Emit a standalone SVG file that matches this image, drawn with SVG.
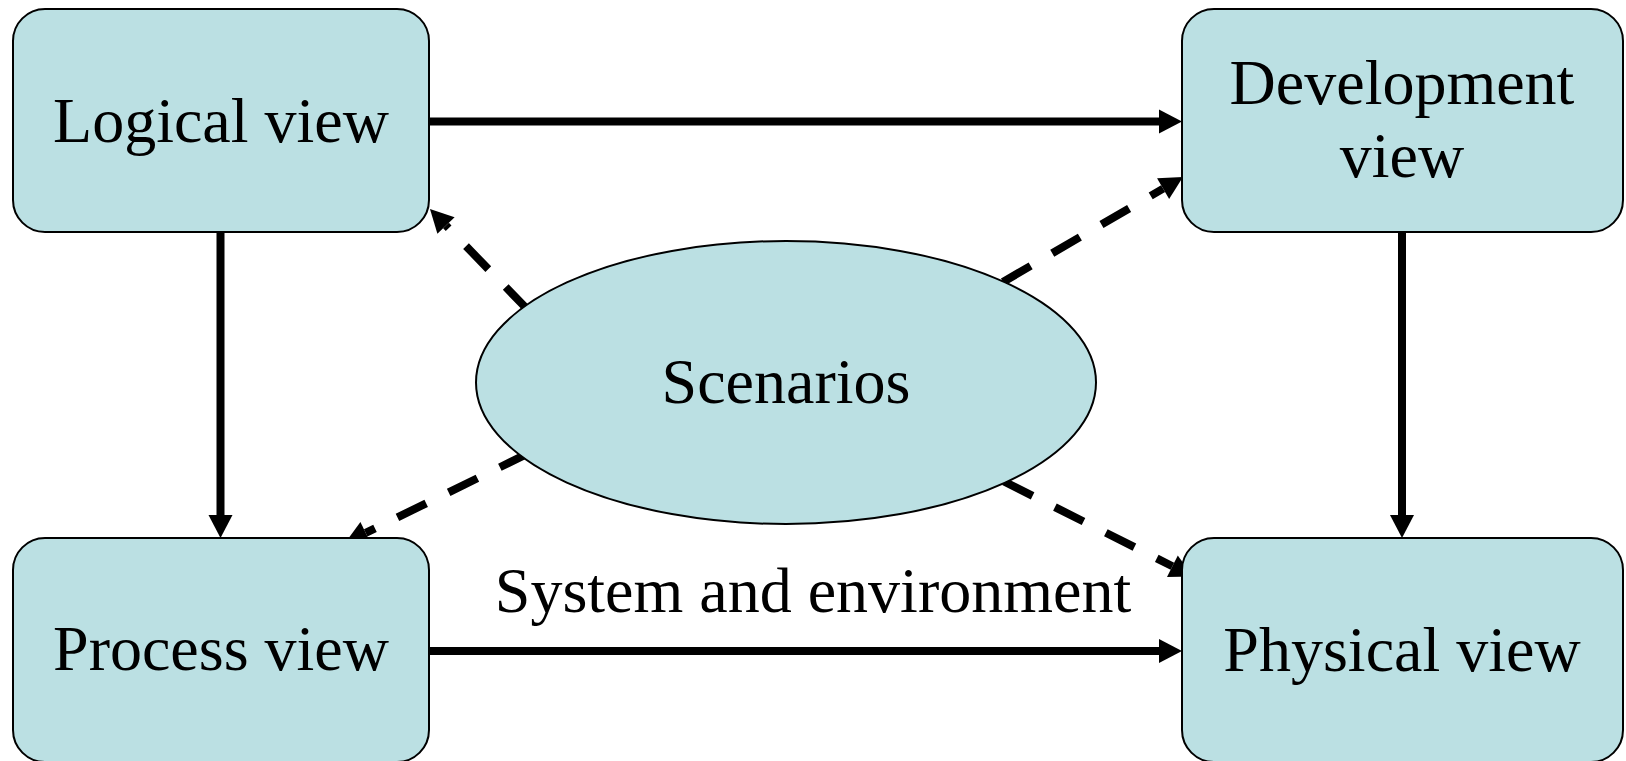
<svg xmlns="http://www.w3.org/2000/svg" width="1626" height="761" viewBox="0 0 1626 761">
  <style>
    .box { fill: #BBE0E3; stroke: #000; stroke-width: 2; }
    .lbl { font-family: "Liberation Serif", "Times New Roman", serif; font-size: 64px; fill: #000; text-anchor: middle; }
    .solid { stroke: #000; stroke-width: 8; fill: none; marker-end: url(#arrow); }
    .dash { stroke: #000; stroke-width: 8; fill: none; stroke-dasharray: 32 25; marker-end: url(#arrow); }
  </style>
  <defs>
    <marker id="arrow" markerUnits="userSpaceOnUse" markerWidth="24" markerHeight="24" refX="0" refY="12" orient="auto" overflow="visible">
      <path d="M0,0 L23,12 L0,24 z" fill="#000"/>
    </marker>
  </defs>
  <rect width="1626" height="761" fill="#fff"/>

  <g id="connectors">
    <line class="solid" x1="429" y1="121.5" x2="1159" y2="121.5"/>
    <line class="solid" x1="220.5" y1="232" x2="220.5" y2="515"/>
    <line class="solid" x1="1402" y1="232" x2="1402" y2="515"/>
    <line class="solid" x1="429" y1="651" x2="1159" y2="651"/>
    <line class="dash" x1="528" y1="310" x2="446" y2="225.5"/>
    <line class="dash" x1="1003" y1="282" x2="1163.1" y2="188.6"/>
    <line class="dash" x1="528.6" y1="453.2" x2="365.7" y2="532.9"/>
    <line class="dash" x1="1004" y1="481.5" x2="1172.4" y2="566.2"/>
  </g>

  <g id="logical">
    <rect class="box" x="13" y="9" width="416" height="223" rx="32" ry="32"/>
    <text class="lbl" x="221" y="142">Logical view</text>
  </g>
  <g id="development">
    <rect class="box" x="1182" y="9" width="441" height="223" rx="32" ry="32"/>
    <text class="lbl" x="1402" y="104">Development</text>
    <text class="lbl" x="1402" y="177">view</text>
  </g>
  <g id="process">
    <rect class="box" x="13" y="538" width="416" height="224" rx="32" ry="32"/>
    <text class="lbl" x="221" y="670">Process view</text>
  </g>
  <g id="physical">
    <rect class="box" x="1182" y="538" width="441" height="224" rx="32" ry="32"/>
    <text class="lbl" x="1402" y="671">Physical view</text>
  </g>
  <g id="scenarios">
    <ellipse class="box" cx="786" cy="382.5" rx="310" ry="141.5"/>
    <text class="lbl" x="786" y="403">Scenarios</text>
  </g>
  <g id="label-system">
    <text class="lbl" x="813" y="612">System and environment</text>
  </g>
</svg>
